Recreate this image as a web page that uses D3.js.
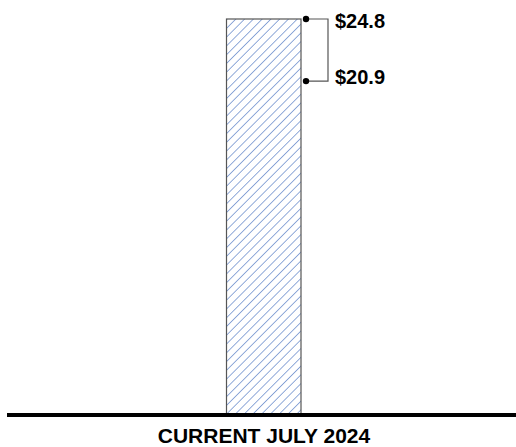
<!DOCTYPE html>
<html><head><meta charset="utf-8">
<script src="https://cdn.jsdelivr.net/npm/d3@7"></script>
<style>body{margin:0;background:#fff}svg{display:block}</style>
</head><body>
<script>
const categories = ["CURRENT JULY 2024"];
const highValues = [24.8];
const lowValues = [20.9];
const valueLabels = ["$24.8", "$20.9"];

const W = 516, H = 447;
const svg = d3.select("body").append("svg").attr("width", W).attr("height", H);
const baseY = 414, topY = 19;
const y = d3.scaleLinear().domain([0, 24.8]).range([baseY, topY]);

const defs = svg.append("defs");
const pat = defs.append("pattern").attr("id", "hatch").attr("patternUnits", "userSpaceOnUse")
  .attr("width", 6.2).attr("height", 6.2).attr("patternTransform", "rotate(45)");
pat.append("line").attr("x1", 0).attr("y1", 0).attr("x2", 0).attr("y2", 6.2)
  .attr("stroke", "#7f9dd3").attr("stroke-width", 1.7);

const bx = 226.5, bw = 74.5;
const xb = d3.scaleBand().domain(categories).range([bx, bx + bw]);
const font = "Liberation Sans, Arial, sans-serif";

svg.selectAll("rect.bar").data(categories).join("rect").attr("class", "bar")
  .attr("x", d => xb(d)).attr("width", xb.bandwidth())
  .attr("y", (d, i) => y(highValues[i])).attr("height", (d, i) => baseY - y(highValues[i]))
  .attr("fill", "url(#hatch)").attr("stroke", "#555").attr("stroke-width", 1.2);

// bracket
categories.forEach((c, i) => {
  const xr = xb(c) + xb.bandwidth() + 5;
  const yh = y(highValues[i]), yl = y(lowValues[i]);
  svg.append("path").attr("d", `M${xr},${yh}H${xr + 22}V${yl}H${xr}`)
    .attr("fill", "none").attr("stroke", "#555").attr("stroke-width", 1.2);
  svg.append("circle").attr("cx", xr).attr("cy", yh).attr("r", 3.2).attr("fill", "#000");
  svg.append("circle").attr("cx", xr).attr("cy", yl).attr("r", 3.2).attr("fill", "#000");
  svg.append("text").attr("x", xr + 29).attr("y", yh + 9).text(valueLabels[0])
    .attr("font-family", font).attr("font-weight", "bold").attr("font-size", 20);
  svg.append("text").attr("x", xr + 29).attr("y", yl + 3).text(valueLabels[1])
    .attr("font-family", font).attr("font-weight", "bold").attr("font-size", 20);
});

// axis
svg.append("line").attr("x1", 7).attr("x2", W).attr("y1", baseY + 1).attr("y2", baseY + 1)
  .attr("stroke", "#000").attr("stroke-width", 4);
svg.selectAll("text.cat").data(categories).join("text").attr("class", "cat")
  .attr("x", 264).attr("y", 443).attr("text-anchor", "middle").text(d => d)
  .attr("font-family", font).attr("font-weight", "bold").attr("font-size", 21);
</script>
</body></html>
